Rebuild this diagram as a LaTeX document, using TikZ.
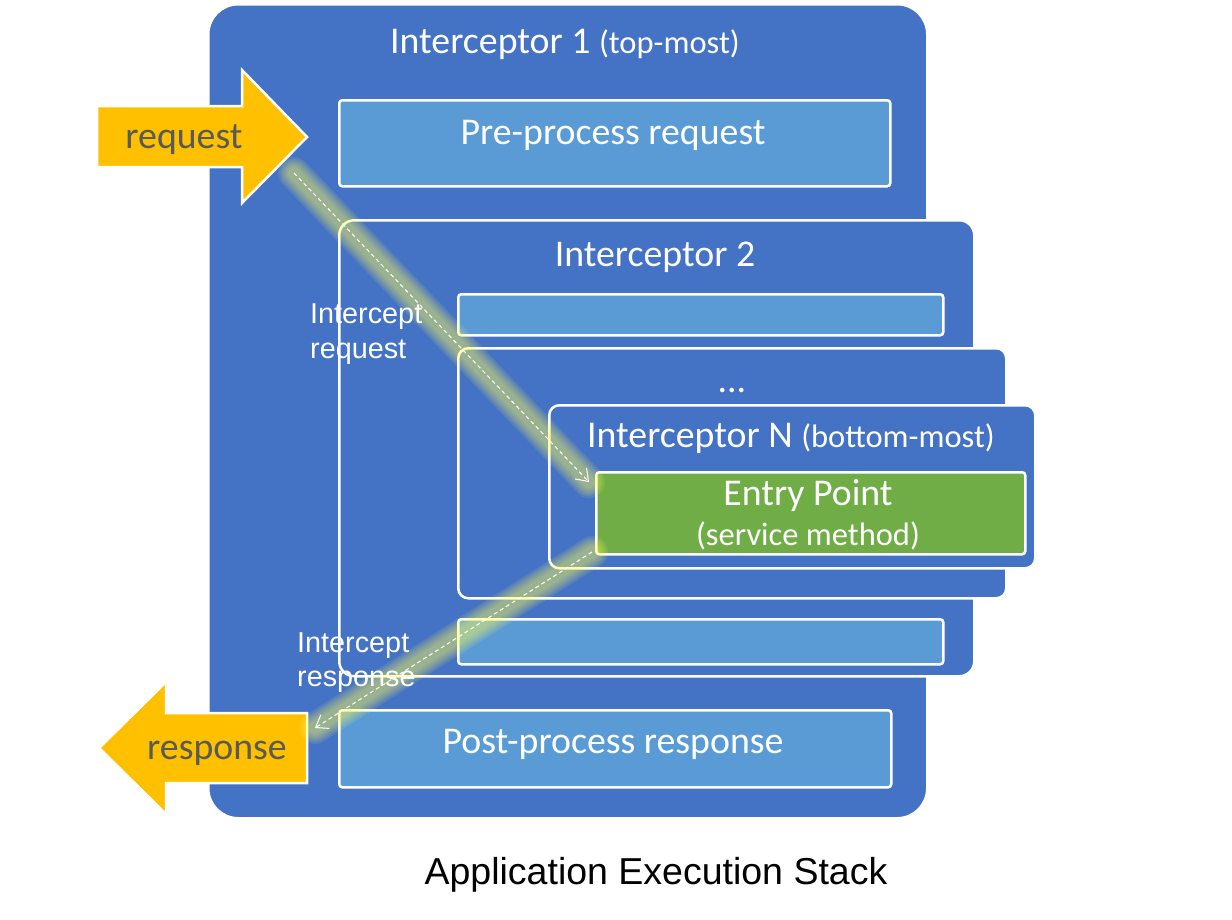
\documentclass[tikz,border=0pt]{standalone}
\usepackage{fontspec}
\setmainfont{Carlito}
\newfontfamily\arialf{Liberation Sans}
\usetikzlibrary{arrows.meta}
\definecolor{ibg}{HTML}{4472C4}
\definecolor{ilight}{HTML}{5B9BD5}
\definecolor{igreen}{HTML}{70AD47}
\definecolor{iyellow}{HTML}{FFC000}
\definecolor{itext}{HTML}{595959}
\definecolor{iglow}{HTML}{FFFF5A}
\newcommand\ipbig{\fontsize{37.8}{42}\selectfont}
\newcommand\ipsmall{\fontsize{32.5}{38}\selectfont}
\newcommand\iparial{\arialf\fontsize{28.8}{34}\selectfont}
\begin{document}
\begin{tikzpicture}[x=1pt,y=-1pt,
  box/.style={draw=white, line width=2.5pt, inner sep=0pt, anchor=north west},
  layer/.style={box, fill=ibg, rounded corners=#1},
  bar/.style={box, fill=ilight, rounded corners=3pt},
  ttl/.style={text=white, font=\ipbig, anchor=base, inner sep=0pt},
  lbl/.style={text=white, font=\iparial, anchor=base west, inner sep=0pt},
  bigarrow/.style={fill=iyellow, draw=white, line width=2.5pt, line join=miter},
  arrowtxt/.style={text=itext, font=\ipbig, anchor=base, inner sep=0pt},
  glowline/.style={draw=iglow, line cap=round},
  flow/.style={draw=white, line width=1pt, dash pattern=on 4pt off 3pt,
    -{Straight Barb[length=11pt,width=16pt,line width=1pt]}}
]
\useasboundingbox (0,0) rectangle (1232,919);

% Interceptor 1
\node[layer=30pt, minimum width=719pt, minimum height=814pt] (i1) at (207,3) {};
\node[ttl] (i1t) at (565,53) {Interceptor 1 {\ipsmall (top-most)}};
\node[bar, minimum width=551pt, minimum height=86pt] (pre) at (338,99) {};
\node[ttl] (pret) at (613,144) {Pre-process request};

% Interceptor 2
\node[layer=15pt, minimum width=635pt, minimum height=456pt] (i2) at (338,219) {};
\node[ttl] (i2t) at (655,266) {Interceptor 2};
\node[bar, minimum width=485pt, minimum height=41pt] (bar1) at (457,293) {};

% ... layer
\node[layer=10pt, minimum width=548pt, minimum height=250pt] (idots) at (457,347) {};
\node[ttl] (idotst) at (732,392) {...};

% Interceptor N
\node[layer=10pt, minimum width=486pt, minimum height=163pt] (iN) at (548,404) {};
\node[ttl] (iNt) at (791,447) {Interceptor N {\ipsmall (bottom-most)}};
\node[box, fill=igreen, rounded corners=3pt, minimum width=429pt, minimum height=82pt] (entry) at (595,471) {};
\node[ttl] (entryt) at (808,505) {Entry Point};
\node[ttl, font=\ipsmall] (entrys) at (808,545) {(service method)};

\node[bar, minimum width=485pt, minimum height=45pt] (bar2) at (457,618) {};
\node[bar, minimum width=552pt, minimum height=77pt] (post) at (338,709) {};
\node[ttl] (postt) at (613,753) {Post-process response};

% big yellow arrows
\draw[bigarrow] (97,106) -- (242,106) -- (242,70) -- (307,137) -- (242,203) -- (242,167) -- (97,167) -- cycle;
\node[arrowtxt] (req) at (184,148) {request};
\draw[bigarrow] (99,748) -- (166,682) -- (166,713) -- (307,713) -- (307,783) -- (166,783) -- (166,814) -- cycle;
\node[arrowtxt] (resp) at (217,759) {response};

% flow connectors
\coordinate (f1s) at (294,173);
\coordinate (f1e) at (589,482);
\coordinate (f2s) at (592,552);
\coordinate (f2e) at (315,728);
\foreach \w in {32,28,24,20,16,12} {
  \draw[glowline, line width=\w pt, draw opacity=0.1] (f1s) -- (f1e);
  \draw[glowline, line width=\w pt, draw opacity=0.1] (f2s) -- (f2e);
}
\draw[flow] (f1s) -- (f1e);
\draw[flow] (f2s) -- (f2e);

% labels
\node[lbl] (lreq) at (310,323) {Intercept};
\node[lbl] (lreq2) at (310,358) {request};
\node[lbl] (lresp) at (297,652) {Intercept};
\node[lbl] (lresp2) at (297,686) {response};

% caption
\node[anchor=base, inner sep=0pt, font=\arialf\fontsize{37.5}{42}\selectfont] (cap) at (656,884) {Application Execution Stack};
\end{tikzpicture}
\end{document}
